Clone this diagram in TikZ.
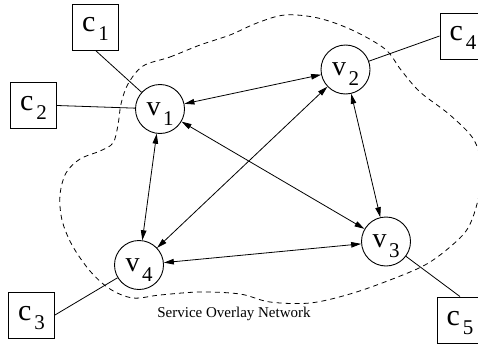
\documentclass[tikz,border=0pt]{standalone}
\usepackage{fontspec}
\setmainfont{Liberation Serif}
\newfontfamily\tms{Liberation Serif}
\usetikzlibrary{arrows.meta}
\newcommand\vlab[2]{{\tms\fontsize{28}{28}\selectfont #1}\hspace{2.5pt}\raisebox{-10pt}{\tms\fontsize{21}{21}\selectfont #2}}
\newcommand\clab[2]{{\tms\fontsize{30}{30}\selectfont #1}\hspace{3pt}\raisebox{-9pt}{\tms\fontsize{21}{21}\selectfont #2}}
\tikzset{
  vnode/.style={draw, circle, line width=0.9pt, minimum size=49pt, inner sep=0pt, text height=22pt, text depth=10pt},
  cnode/.style={draw, rectangle, line width=0.9pt, minimum width=46pt, minimum height=46pt, inner sep=0pt, text height=20pt, text depth=10pt},
  link/.style={line width=0.8pt},
  biarrow/.style={line width=0.8pt, {Triangle[length=10pt,width=5.5pt]}-{Triangle[length=10pt,width=5.5pt]}},
  cloud/.style={line width=0.8pt, dash pattern=on 5pt off 4pt},
  caption/.style={font=\tms\fontsize{15}{15}\selectfont, anchor=base, inner sep=0pt}
}
\begin{document}
\begin{tikzpicture}[x=1pt, y=-1pt]
\useasboundingbox (0,0) rectangle (478,345);
\draw[cloud] plot[smooth cycle, tension=0.55] coordinates {
 (143,66) (170,57) (200,45) (230,35) (257,23) (285,15) (318,18) (352,30) (385,49)
 (401,70) (420,92) (450,115) (474,140) (482,170) (478,200) (468,228) (450,247)
 (425,265) (390,280) (350,294) (310,303) (270,302) (240,294) (200,292) (160,295)
 (133,298) (110,289) (90,271) (72,245) (62,220) (60,195) (66,173) (80,159)
 (100,151) (113,143) (118,125) (121,104) (128,84)};
\node[vnode] (v1) at (160,109) {\vlab{v}{1}};
\node[vnode] (v2) at (345.5,69.5) {\vlab{v}{2}};
\node[vnode] (v3) at (386,241.5) {\vlab{v}{3}};
\node[vnode] (v4) at (139,265) {\vlab{v}{4}};
\node[cnode] (c1) at (95.5,27) {\clab{c}{1}};
\node[cnode] (c2) at (33.5,105.5) {\clab{c}{2}};
\node[cnode] (c3) at (31.5,315) {\clab{c}{3}};
\node[cnode] (c4) at (463,36) {\clab{c}{4}};
\node[cnode] (c5) at (460,320) {\clab{c}{5}};
\draw[link] (c1.south) -- (v1);
\draw[link] (c2.east) -- (v1);
\draw[link] (c4.west) -- (v2);
\draw[link] (c3.east) -- (v4);
\draw[link] (c5.north) -- (v3);
\draw[biarrow] (v1) -- (v2);
\draw[biarrow] (v1) -- (v3);
\draw[biarrow] (v1) -- (v4);
\draw[biarrow] (v2) -- (v4);
\draw[biarrow] (v2) -- (v3);
\draw[biarrow] (v4) -- (v3);
\node[caption] (cap) at (234,317) {Service Overlay Network};
\end{tikzpicture}
\end{document}
